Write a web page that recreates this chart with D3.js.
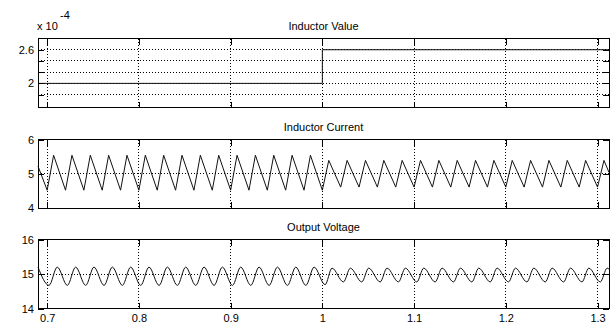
<!DOCTYPE html>
<html><head><meta charset="utf-8">
<script src="https://cdn.jsdelivr.net/npm/d3@7"></script>
<style>
body{margin:0;background:#fff;}
text{font-family:"Liberation Sans",Arial,sans-serif;font-size:11px;fill:#000;}
</style></head><body>
<svg id="c" width="613" height="331"></svg>
<script>
// ---- data ----
const xTicks = [0.7, 0.8, 0.9, 1.0, 1.1, 1.2, 1.3];
const xTickLabels = ["0.7", "0.8", "0.9", "1", "1.1", "1.2", "1.3"];

// Inductor value (units of 1e-4 H)
const inductorT = [0.69, 1.0, 1.0, 1.3125];
const inductorV = [2.0, 2.0, 2.6, 2.6];
const inductorYTicks = [1.8, 2.0, 2.2, 2.4, 2.6];
const inductorYLabels = ["", "2", "", "", "2.6"];

// Inductor current (A) - vertices of the triangular ripple
const currentT = [0.69, 0.70, 0.707, 0.72, 0.727, 0.74, 0.747, 0.76, 0.767, 0.78, 0.787,
  0.80, 0.807, 0.82, 0.827, 0.84, 0.847, 0.86, 0.867, 0.88, 0.887, 0.90, 0.907,
  0.92, 0.927, 0.94, 0.947, 0.96, 0.967, 0.98, 0.987, 1.00, 1.007, 1.02, 1.027,
  1.04, 1.047, 1.06, 1.067, 1.08, 1.087, 1.10, 1.107, 1.12, 1.127, 1.14, 1.147,
  1.16, 1.167, 1.18, 1.187, 1.20, 1.207, 1.22, 1.227, 1.24, 1.247, 1.26, 1.267,
  1.28, 1.287, 1.30, 1.307, 1.3125];
const currentV = [5.22, 4.52, 5.54, 4.52, 5.54, 4.52, 5.54, 4.52, 5.54, 4.52, 5.54,
  4.52, 5.54, 4.52, 5.54, 4.52, 5.54, 4.52, 5.54, 4.52, 5.54, 4.52, 5.54,
  4.52, 5.54, 4.52, 5.54, 4.52, 5.54, 4.52, 5.54, 4.52, 5.39, 4.61, 5.39,
  4.61, 5.39, 4.61, 5.39, 4.61, 5.39, 4.61, 5.39, 4.61, 5.39, 4.61, 5.39,
  4.61, 5.39, 4.61, 5.39, 4.61, 5.39, 4.61, 5.39, 4.61, 5.39, 4.61, 5.39,
  4.61, 5.39, 4.61, 5.39, 5.04];
const currentYTicks = [4, 5, 6];
const currentYLabels = ["4", "5", "6"];

// Output voltage (V) - turning points of the ripple
const voltageT = [0.69, 0.702, 0.711, 0.722, 0.731, 0.742, 0.751, 0.762, 0.771, 0.782, 0.791,
  0.802, 0.811, 0.822, 0.831, 0.842, 0.851, 0.862, 0.871, 0.882, 0.891, 0.902, 0.911,
  0.922, 0.931, 0.942, 0.951, 0.962, 0.971, 0.982, 0.991, 1.003, 1.0105, 1.023, 1.0305,
  1.043, 1.0505, 1.063, 1.0705, 1.083, 1.0905, 1.103, 1.1105, 1.123, 1.1305, 1.143, 1.1505,
  1.163, 1.1705, 1.183, 1.1905, 1.203, 1.2105, 1.223, 1.2305, 1.243, 1.2505, 1.263, 1.2705,
  1.283, 1.2905, 1.303, 1.3105, 1.3125];
const voltageV = [15.2, 14.67, 15.2, 14.67, 15.2, 14.67, 15.2, 14.67, 15.2, 14.67, 15.2,
  14.67, 15.2, 14.67, 15.2, 14.67, 15.2, 14.67, 15.2, 14.67, 15.2, 14.67, 15.2,
  14.67, 15.2, 14.67, 15.2, 14.67, 15.2, 14.67, 15.2, 14.69, 15.17, 14.77, 15.17,
  14.77, 15.17, 14.77, 15.17, 14.77, 15.17, 14.77, 15.17, 14.77, 15.17, 14.77, 15.17,
  14.77, 15.17, 14.77, 15.17, 14.77, 15.17, 14.77, 15.17, 14.77, 15.17, 14.77, 15.17,
  14.77, 15.17, 14.77, 15.17, 15.14];
const voltageYTicks = [14, 15, 16];
const voltageYLabels = ["14", "15", "16"];

const titles = ["Inductor Value", "Inductor Current", "Output Voltage"];

// ---- drawing ----
const svg = d3.select("#c");
const left = 38, right = 609;
const x = d3.scaleLinear().domain([0.69, 1.3125]).range([left, right]);

function panel(top, bottom, domain, yTicks, yLabels, title, T, V, curve, showX) {
  const y = d3.scaleLinear().domain(domain).range([bottom, top]);
  const g = svg.append("g");
  // grid
  g.selectAll(".gx").data(xTicks).enter().append("line")
    .attr("x1", d => x(d)).attr("x2", d => x(d)).attr("y1", top).attr("y2", bottom)
    .attr("stroke", "#000").attr("stroke-width", 1).attr("stroke-dasharray", "1,2")
    .attr("shape-rendering", "crispEdges");
  g.selectAll(".gy").data(yTicks).enter().append("line")
    .attr("x1", left).attr("x2", right).attr("y1", d => y(d)).attr("y2", d => y(d))
    .attr("stroke", "#000").attr("stroke-width", 1).attr("stroke-dasharray", "1,2")
    .attr("shape-rendering", "crispEdges");
  // data
  const line = d3.line().x((d, i) => x(T[i])).y(d => y(d)).curve(curve);
  g.append("path").attr("d", line(V)).attr("fill", "none")
    .attr("stroke", "#111").attr("stroke-width", 1);
  // axes
  const ax = g.append("g").attr("class", "axes");
  const la = d3.axisLeft(y).tickValues(yTicks).tickSize(-6).tickPadding(4)
    .tickFormat((d, i) => yLabels[i]);
  const ra = d3.axisRight(y).tickValues(yTicks).tickSize(-6).tickFormat("");
  const ta = d3.axisTop(x).tickValues(xTicks).tickSize(-6).tickFormat("");
  const ba = d3.axisBottom(x).tickValues(xTicks).tickSize(-6).tickPadding(6)
    .tickFormat((d, i) => showX ? xTickLabels[i] : "");
  ax.append("g").attr("transform", `translate(${left},0)`).call(la);
  ax.append("g").attr("transform", `translate(${right},0)`).call(ra);
  ax.append("g").attr("transform", `translate(0,${top})`).call(ta);
  ax.append("g").attr("transform", `translate(0,${bottom})`).call(ba);
  ax.selectAll(".domain").remove();
  ax.selectAll(".tick line").attr("stroke", "#000").attr("shape-rendering", "crispEdges");
  ax.selectAll("text").attr("font-size", "11px").attr("font-family", "Liberation Sans, Arial, sans-serif");
  // frame
  g.append("rect").attr("x", left).attr("y", top).attr("width", right - left)
    .attr("height", bottom - top).attr("fill", "none").attr("stroke", "#000")
    .attr("shape-rendering", "crispEdges");
  // title
  g.append("text").attr("x", (left + right) / 2).attr("y", top - 9)
    .attr("text-anchor", "middle").text(title);
  return g;
}

panel(38.5, 107.5, [1.57, 2.8], inductorYTicks, inductorYLabels, titles[0],
  inductorT, inductorV, d3.curveLinear, false);
panel(139.5, 208, [4, 6], currentYTicks, currentYLabels, titles[1],
  currentT, currentV, d3.curveLinear, false);
panel(239.5, 308.5, [14, 16], voltageYTicks, voltageYLabels, titles[2],
  voltageT, voltageV, d3.curveMonotoneX, true);

// exponent label
svg.append("text").attr("x", 37).attr("y", 30).text("x 10");
svg.append("text").attr("x", 60).attr("y", 19).text("-4");
</script></body></html>
